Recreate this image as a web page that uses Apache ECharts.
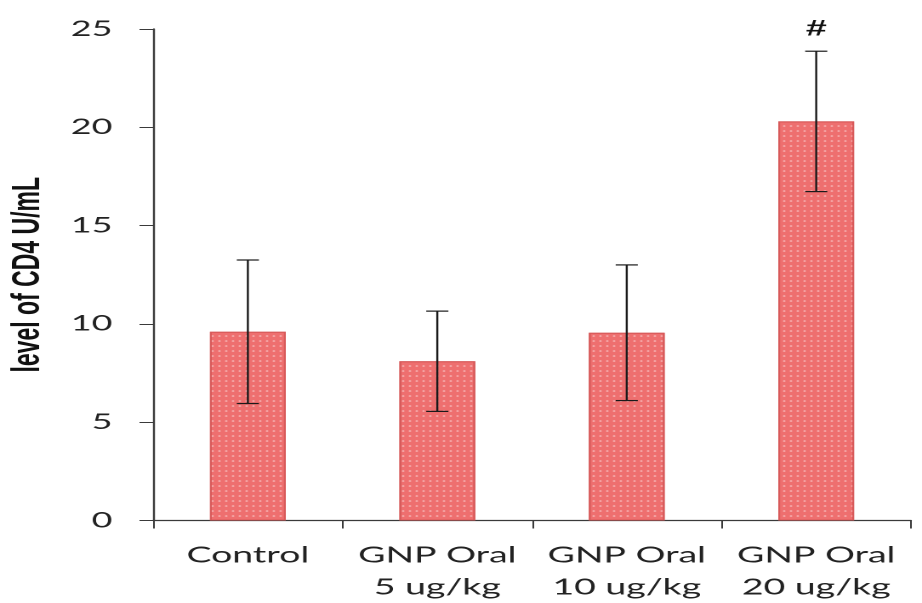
<!DOCTYPE html>
<html>
<head>
<meta charset="utf-8">
<script src="https://cdn.jsdelivr.net/npm/echarts@6/dist/echarts.min.js"></script>
<style>
  html, body { margin: 0; padding: 0; background: #ffffff; }
  #wrap { width: 922px; height: 603px; overflow: hidden; position: relative; }
  #chart { width: 542px; height: 603px; transform: scaleX(1.7011); transform-origin: 0 0; }
</style>
</head>
<body>
<div id="wrap"><div id="chart"></div></div>
<script>
// ---- data ----
var categories = ['Control', 'GNP Oral\n5 ug/kg', 'GNP Oral\n10 ug/kg', 'GNP Oral\n20 ug/kg'];
var means = [9.6, 8.1, 9.55, 20.3];
var errors = [3.65, 2.55, 3.45, 3.57];
var annotations = ['', '', '', '#'];
var yTicks = { min: 0, max: 25, interval: 5 };
var yAxisTitle = 'level of CD4 U/mL';

var chart = echarts.init(document.getElementById('chart'), null, { devicePixelRatio: 2 });

var errData = categories.map(function (c, i) { return [i, means[i], errors[i]]; });

var option = {
  backgroundColor: '#ffffff',
  animation: false,
  grid: { left: 90, right: 6.5, top: 29, bottom: 82.5, containLabel: false, outerBoundsMode: 'none' },
  xAxis: {
    type: 'category',
    data: categories,
    axisLine: { lineStyle: { color: '#3a3a3a', width: 1.2 } },
    axisTick: { show: true, length: 8, inside: false, interval: 0, lineStyle: { color: '#3a3a3a', width: 1 } },
    axisLabel: {
      interval: 0, hideOverlap: false,
      color: '#222', fontFamily: 'Lato', fontSize: 22, lineHeight: 32, margin: 19
    }
  },
  yAxis: {
    type: 'value',
    min: yTicks.min, max: yTicks.max, interval: yTicks.interval,
    name: yAxisTitle,
    nameLocation: 'middle',
    nameRotate: 90,
    nameGap: 62,
    nameTextStyle: { color: '#111', fontFamily: 'Liberation Sans', fontWeight: 'bold', fontSize: 23 },
    splitLine: { show: false },
    axisLine: { show: true, lineStyle: { color: '#3a3a3a', width: 1.2 } },
    axisTick: { show: true, length: 8, lineStyle: { color: '#3a3a3a', width: 1 } },
    axisLabel: { color: '#222', fontFamily: 'Lato', fontSize: 21, margin: 24 }
  },
  series: [
    {
      type: 'bar',
      data: means,
      barWidth: '40%',
      itemStyle: {
        color: '#ee6f6f',
        borderColor: '#d85a5a',
        borderWidth: 1,
        decal: {
          symbol: 'circle',
          symbolSize: 0.8,
          color: 'rgba(255,255,255,0.5)',
          dashArrayX: [2, 1.2],
          dashArrayY: [2, 3]
        }
      },
      z: 2
    },
    {
      type: 'custom',
      data: errData,
      z: 5,
      renderItem: function (params, api) {
        var x = api.value(0), m = api.value(1), e = api.value(2);
        var top = api.coord([x, m + e]);
        var bot = api.coord([x, m - e]);
        var hw = 6.5;
        var st = { stroke: '#1a1a1a', lineWidth: 1.2 };
        var children = [
          { type: 'line', shape: { x1: top[0], y1: top[1], x2: bot[0], y2: bot[1] }, style: st },
          { type: 'line', shape: { x1: top[0] - hw, y1: top[1], x2: top[0] + hw, y2: top[1] }, style: st },
          { type: 'line', shape: { x1: bot[0] - hw, y1: bot[1], x2: bot[0] + hw, y2: bot[1] }, style: st }
        ];
        var ann = annotations[params.dataIndex];
        if (ann) {
          children.push({
            type: 'text',
            style: {
              text: ann, x: top[0], y: top[1] - 11,
              textAlign: 'center', textVerticalAlign: 'bottom',
              fill: '#111', font: 'bold 22px "Liberation Sans"'
            }
          });
        }
        return { type: 'group', children: children };
      }
    }
  ]
};
chart.setOption(option);
</script>
</body>
</html>
